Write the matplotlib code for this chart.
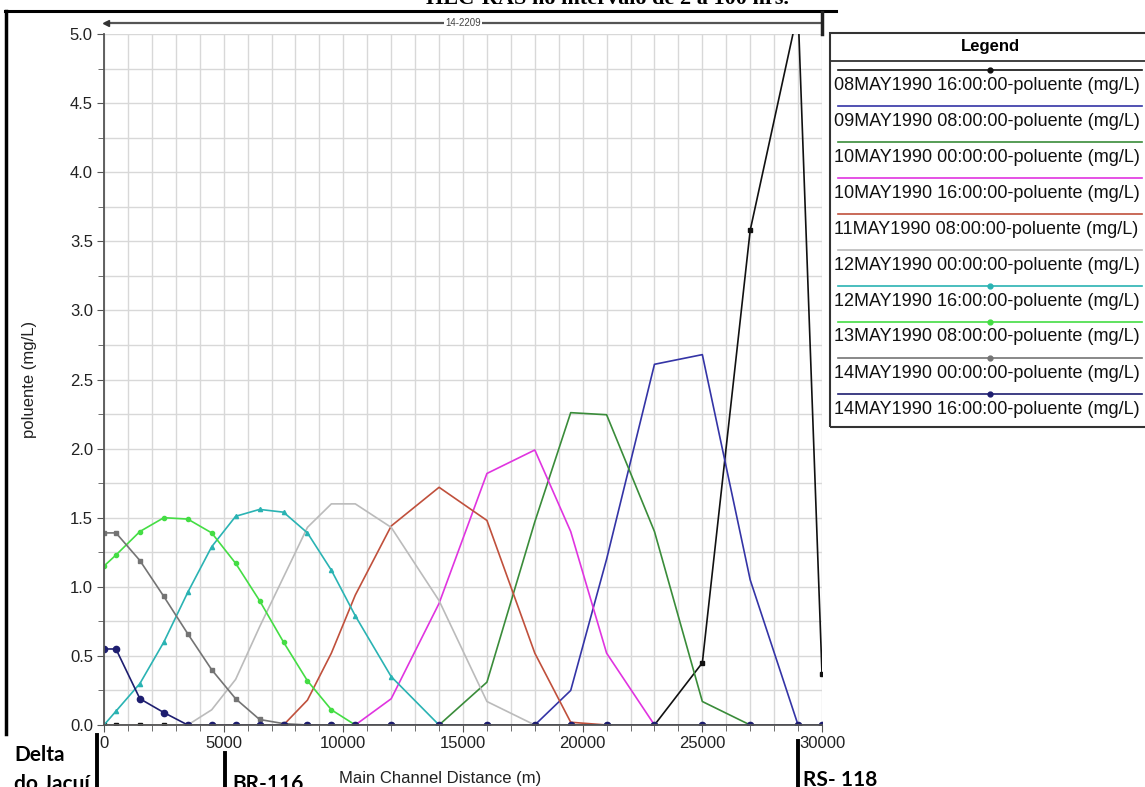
import numpy as np
import matplotlib
matplotlib.use("Agg")
import matplotlib.pyplot as plt
from matplotlib.lines import Line2D
from matplotlib.ticker import MultipleLocator, FormatStrFormatter

plt.rcParams['font.family'] = ['Liberation Sans', 'DejaVu Sans']

# main channel stations (m)
dist = [0, 500, 1500, 2500, 3500, 4500, 5500, 6500, 7500, 8500, 9500, 10500,
        12000, 14000, 16000, 18000, 19500, 21000, 23000, 25000, 27000, 29000, 30000]

# poluente (mg/L) per profile
p08_16 = [0, 0, 0, 0, 0, 0, 0, 0, 0, 0, 0, 0, 0, 0, 0, 0, 0, 0, 0, 0.45, 3.58, 5.17, 0.37]
p09_08 = [0, 0, 0, 0, 0, 0, 0, 0, 0, 0, 0, 0, 0, 0, 0, 0, 0.25, 1.2, 2.61, 2.68, 1.05, 0, 0]
p10_00 = [0, 0, 0, 0, 0, 0, 0, 0, 0, 0, 0, 0, 0, 0, 0.31, 1.47, 2.26, 2.245, 1.40, 0.17, 0, 0, 0]
p10_16 = [0, 0, 0, 0, 0, 0, 0, 0, 0, 0, 0, 0, 0.19, 0.88, 1.82, 1.99, 1.40, 0.52, 0, 0, 0, 0, 0]
p11_08 = [0, 0, 0, 0, 0, 0, 0, 0, 0, 0.18, 0.52, 0.94, 1.44, 1.72, 1.48, 0.52, 0.02, 0, 0, 0, 0, 0, 0]
p12_00 = [0, 0, 0, 0, 0, 0.11, 0.33, 0.71, 1.07, 1.43, 1.60, 1.60, 1.43, 0.90, 0.17, 0, 0, 0, 0, 0, 0, 0, 0]
p12_16 = [0, 0.10, 0.30, 0.60, 0.96, 1.29, 1.51, 1.56, 1.54, 1.39, 1.12, 0.79, 0.35, 0, 0, 0, 0, 0, 0, 0, 0, 0, 0]
p13_08 = [1.15, 1.23, 1.40, 1.50, 1.49, 1.39, 1.17, 0.90, 0.60, 0.32, 0.11, 0, 0, 0, 0, 0, 0, 0, 0, 0, 0, 0, 0]
p14_00 = [1.39, 1.39, 1.19, 0.93, 0.66, 0.40, 0.19, 0.04, 0.01, 0, 0, 0, 0, 0, 0, 0, 0, 0, 0, 0, 0, 0, 0]
p14_16 = [0.55, 0.55, 0.19, 0.09, 0, 0, 0, 0, 0, 0, 0, 0, 0, 0, 0, 0, 0, 0, 0, 0, 0, 0, 0]

labels = ['08MAY1990 16:00:00-poluente (mg/L)', '09MAY1990 08:00:00-poluente (mg/L)',
          '10MAY1990 00:00:00-poluente (mg/L)', '10MAY1990 16:00:00-poluente (mg/L)',
          '11MAY1990 08:00:00-poluente (mg/L)', '12MAY1990 00:00:00-poluente (mg/L)',
          '12MAY1990 16:00:00-poluente (mg/L)', '13MAY1990 08:00:00-poluente (mg/L)',
          '14MAY1990 00:00:00-poluente (mg/L)', '14MAY1990 16:00:00-poluente (mg/L)']
series = [p08_16, p09_08, p10_00, p10_16, p11_08, p12_00, p12_16, p13_08, p14_00, p14_16]
colors = ['#111111', '#3434a6', '#3a8c3a', '#e034e0', '#c0503c',
          '#bbbbbb', '#2ab3b3', '#44dd44', '#747474', '#1e1e70']
markers = ['s', None, None, None, None, None, '^', 'o', 's', 'o']
msizes = [3, 0, 0, 0, 0, 0, 3, 3, 2.5, 4.5]

W, H = 1145, 787
def fx(px):
    return px / W
def fy(py):
    return 1 - py / H

fig = plt.figure(figsize=(W / 100, H / 100), dpi=100)
ax = fig.add_axes([fx(104), fy(725), (822 - 104) / W, (725 - 34) / H])

for vals, c, m, ms in zip(series, colors, markers, msizes):
    ax.plot(dist, vals, color=c, lw=1.2, marker=m, ms=ms, mec=c, mfc=c)

ax.set_xlim(0, 30000)
ax.set_ylim(0, 5.0)
ax.xaxis.set_major_locator(MultipleLocator(5000))
ax.xaxis.set_minor_locator(MultipleLocator(1000))
ax.yaxis.set_major_locator(MultipleLocator(0.5))
ax.yaxis.set_minor_locator(MultipleLocator(0.25))
ax.yaxis.set_major_formatter(FormatStrFormatter('%.1f'))
ax.grid(True, which='both', color='#d8d8d8', lw=1.0)
ax.set_axisbelow(True)
for s in ['top', 'right']:
    ax.spines[s].set_visible(False)
for s in ['left', 'bottom']:
    ax.spines[s].set_color('#555555')
    ax.spines[s].set_linewidth(1.3)
ax.tick_params(which='major', direction='out', length=5, color='#555555',
               labelsize=12, pad=3, labelcolor='#222222')
ax.tick_params(which='minor', direction='out', length=4, color='#555555')

ax.set_ylabel('poluente (mg/L)', fontsize=12, color='#222222')
ax.yaxis.set_label_coords(-0.094, 0.5)
fig.text(fx(440), fy(778), 'Main Channel Distance (m)', fontsize=12,
         color='#222222', ha='center', va='center')

# outer frame (left and top)
fig.add_artist(Line2D([fx(6), fx(6)], [fy(11), fy(734)], color='black', lw=2.5))
fig.add_artist(Line2D([fx(5), fx(836)], [fy(11), fy(11)], color='black', lw=2.2))

# reach marker 14-2209
fig.add_artist(Line2D([fx(106), fx(821)], [fy(23), fy(23)], color='#555555', lw=1.6))
fig.add_artist(Line2D([fx(106)], [fy(23)], marker='<', ms=5, color='#333333'))
fig.add_artist(Line2D([fx(822), fx(822)], [fy(12), fy(34)], color='#222222', lw=2.5))
fig.text(fx(463), fy(23), '14-2209', fontsize=7, color='#444444', ha='center', va='center',
         bbox=dict(fc='white', ec='none', pad=1.0))

# caption, cut at the top as in the source image
fig.text(fx(608), fy(4), 'HEC-RAS no intervalo de 2 a 100 hrs.', fontsize=16,
         family='Liberation Serif', weight='bold', ha='center', va='baseline')

# legend table
fig.add_artist(plt.Rectangle((fx(830), fy(427)), (1160 - 830) / W, (427 - 33) / H,
                             fill=False, ec='#333333', lw=1.5))
fig.add_artist(Line2D([fx(830), fx(1150)], [fy(61), fy(61)], color='#333333', lw=1.3))
fig.text(fx(990), fy(47), 'Legend', fontsize=12, weight='bold', ha='center', va='center')
for i, (lab, c, m) in enumerate(zip(labels, colors, markers)):
    yl = 70 + 36 * i
    fig.add_artist(Line2D([fx(838), fx(1142)], [fy(yl), fy(yl)], color=c, lw=1.2))
    if m is not None:
        fig.add_artist(Line2D([fx(990)], [fy(yl)], marker='o', ms=3.5, color=c))
    fig.text(fx(834), fy(yl + 15), lab, fontsize=13, color='#111111',
             ha='left', va='center')

# location marks
bold = dict(family=['Lato', 'DejaVu Sans'], weight='bold', fontsize=15, color='black')
fig.add_artist(Line2D([fx(97), fx(97)], [fy(735), fy(787)], color='black', lw=2.8))
fig.text(fx(14), fy(761), 'Delta', ha='left', va='baseline', **bold)
fig.text(fx(14), fy(790), 'do Jacuí', ha='left', va='baseline', **bold)
fig.add_artist(Line2D([fx(225), fx(225)], [fy(753), fy(787)], color='black', lw=2.8))
fig.text(fx(232), fy(790), 'BR-116', ha='left', va='baseline', **bold)
fig.add_artist(Line2D([fx(798), fx(798)], [fy(741), fy(787)], color='black', lw=2.8))
fig.text(fx(803), fy(786), 'RS- 118', ha='left', va='baseline', **bold)

fig.savefig('out.png', dpi=100)
